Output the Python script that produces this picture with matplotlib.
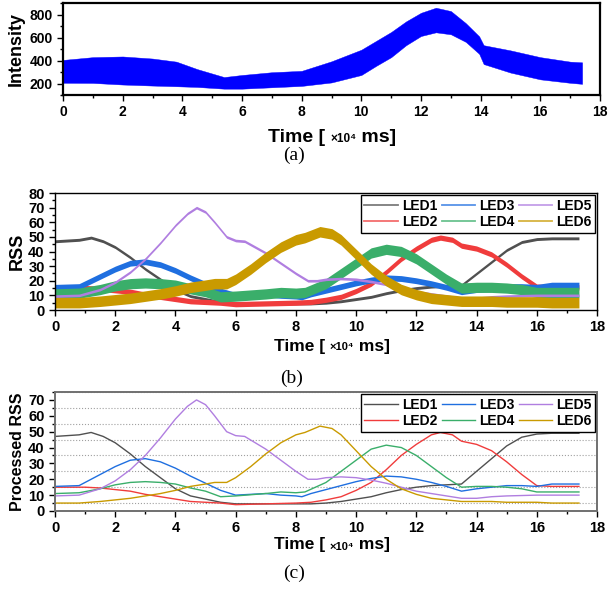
import matplotlib
matplotlib.use('Agg')
import matplotlib.pyplot as plt
from matplotlib.ticker import MultipleLocator
from matplotlib.lines import Line2D
from matplotlib.offsetbox import TextArea, HPacker, AnnotationBbox

plt.rcParams['font.family'] = ['Liberation Sans', 'DejaVu Sans']
plt.rcParams['font.weight'] = 'bold'

# ---- (a) raw photodiode intensity: upper / lower envelope of the band ----
t_int = [0, 1, 2, 3, 3.8, 4.5, 5.4, 6, 7, 8, 9, 10, 10.5, 11, 11.5, 12, 12.5,
         13, 13.5, 13.95, 14.1, 15, 16, 17, 17.4]
int_hi = [405, 429, 435, 417, 390, 325, 256, 274, 298, 310, 393, 494, 571, 648,
          740, 815, 859, 830, 725, 610, 533, 488, 429, 390, 384]
int_lo = [206, 205, 191, 182, 176, 170, 155, 155, 167, 179, 209, 274, 354, 429,
          533, 613, 645, 628, 562, 458, 369, 295, 236, 206, 197]

# ---- (b)/(c) RSS per LED ----
leds = ['LED1', 'LED2', 'LED3', 'LED4', 'LED5', 'LED6']
colors = ['#505050', '#f03c3c', '#1f6fe0', '#3aae6a', '#b07ee0', '#c99a00']

t_led1 = [0, 0.8, 1.2, 1.6, 2, 2.5, 3, 3.5, 4, 4.5, 5, 5.5, 6, 7, 8, 8.5, 9, 9.5,
          10, 10.5, 11, 11.5, 12, 12.5, 13, 13.5, 14, 14.5, 15, 15.5, 16, 16.5, 17, 17.4]
rss_led1 = [47, 48, 49.5, 47, 43, 36, 28, 21, 14, 9.5, 7.5, 5.5, 4.5, 4.5, 4.5, 4.5,
            5, 6, 7.5, 9, 11.5, 13.5, 15, 16, 16.5, 17, 25, 33, 41, 46.5, 48.5, 49, 49, 49]

t_led2 = [0, 1, 1.5, 2, 2.5, 3, 3.5, 4, 4.5, 5, 5.5, 6, 7, 8, 8.5, 9, 9.5, 10, 10.5,
          11, 11.5, 12, 12.5, 12.8, 13.2, 13.5, 14, 14.5, 15, 15.5, 16, 16.5, 17.4]
rss_led2 = [15, 15, 14.5, 13.5, 12.5, 10.5, 9, 7.5, 6, 5.5, 5, 4, 4.5, 5, 5.5, 7, 9,
            13, 18, 26, 35, 42, 48, 49.5, 48, 44, 42, 38, 31, 23, 16, 15.5, 15.5]

t_led3 = [0, 0.8, 1.2, 2, 2.5, 3, 3.5, 4, 4.5, 5, 5.5, 6, 7, 7.5, 8, 8.2, 8.5, 9,
          9.5, 10, 10.5, 11, 11.5, 12, 12.5, 13, 13.5, 14, 14.5, 15, 15.5, 16, 16.5, 17.4]
rss_led3 = [15.5, 16, 20, 28, 32, 33, 31, 27, 22, 17.5, 13, 10, 11, 10, 9.5, 9, 11,
            13.5, 16, 18.5, 20.5, 22, 21.5, 20, 18, 15.5, 12.5, 14, 15, 16, 16, 15.5, 17, 17]

t_led4 = [0, 0.8, 1.5, 2, 2.5, 3, 3.5, 4, 4.5, 5, 5.5, 6, 7, 7.5, 8, 8.3, 9, 9.5,
          10, 10.5, 11, 11.5, 12, 12.5, 13, 13.5, 14, 14.5, 15, 15.5, 16, 17.4]
rss_led4 = [11, 11.5, 14, 16.5, 18, 18.5, 18, 17, 14.5, 12.5, 9, 9.5, 11, 12, 11.5,
            12, 18, 25, 32, 39, 41.5, 40, 35, 28, 21, 15, 15.5, 15.5, 15, 14, 12, 12]

t_led5 = [0, 0.8, 1.5, 2, 2.5, 3, 3.5, 4, 4.4, 4.7, 5, 5.3, 5.7, 6, 6.3, 7, 7.5, 8,
          8.4, 8.7, 9, 9.5, 10, 10.5, 11, 11.5, 12, 12.5, 13, 13.5, 14, 14.5, 15, 16, 17.4]
rss_led5 = [9.5, 10, 14, 19, 26, 35, 46, 58, 66, 70, 67, 60, 50, 47.5, 47, 39, 32, 25,
            20, 20, 21, 21.5, 21, 19.5, 17.5, 15, 12.5, 11, 9.5, 8, 8, 9, 9.5, 10, 10]

t_led6 = [0, 0.8, 1.5, 2, 2.5, 3, 3.5, 4, 4.5, 5, 5.3, 5.7, 6, 6.5, 7, 7.5, 8, 8.3,
          8.8, 9.2, 9.5, 10, 10.5, 11, 11.5, 12, 12.5, 13, 13.5, 14.5, 15, 16, 16.5, 17.4]
rss_led6 = [5, 5, 6, 7, 8, 9.5, 11, 13, 15.5, 17, 18, 18, 21, 28, 36, 43, 48, 49.5,
            53.5, 52, 48, 38, 28, 20, 14, 10.5, 8, 7, 6, 6, 5.5, 5.5, 5, 5]

t_all = [t_led1, t_led2, t_led3, t_led4, t_led5, t_led6]
rss_all = [rss_led1, rss_led2, rss_led3, rss_led4, rss_led5, rss_led6]
# half width of the measurement noise band in (b)
noise_hw = [1.0, 1.8, 2.0, 3.5, 0.9, 3.6]

W, H = 610, 590
fig = plt.figure(figsize=(W / 100, H / 100), dpi=100)


def px_axes(left, right, top, bottom):
    return fig.add_axes([left / W, 1 - bottom / H, (right - left) / W, (bottom - top) / H])


def time_label(x, y, big, small):
    parts = [TextArea('Time [ ', textprops=dict(fontsize=big, fontweight='bold')),
             TextArea('×10⁴', textprops=dict(fontsize=small, fontweight='bold')),
             TextArea(' ms]', textprops=dict(fontsize=big, fontweight='bold'))]
    box = HPacker(children=parts, align='baseline', pad=0, sep=0)
    ab = AnnotationBbox(box, (x / W, 1 - y / H), xycoords='figure fraction',
                        frameon=False, box_alignment=(0.5, 0.5))
    fig.add_artist(ab)


def panel_tag(x, y, s):
    fig.text(x / W, 1 - y / H, s, ha='center', va='center', fontsize=14,
             family='Liberation Serif', fontweight='normal')


def style_axes(ax, ymajor, yminor, fsize, spine_color, spine_lw):
    ax.set_xlim(0, 18)
    ax.xaxis.set_major_locator(MultipleLocator(2))
    ax.xaxis.set_minor_locator(MultipleLocator(1))
    ax.yaxis.set_major_locator(MultipleLocator(ymajor))
    ax.yaxis.set_minor_locator(MultipleLocator(yminor))
    ax.tick_params(which='both', direction='out', labelsize=fsize, colors='black')
    ax.tick_params(which='major', length=4, width=1)
    ax.tick_params(which='minor', length=2, width=1)
    for lab in ax.get_xticklabels() + ax.get_yticklabels():
        lab.set_fontweight('bold')
    for sp in ax.spines.values():
        sp.set_color(spine_color)
        sp.set_linewidth(spine_lw)


def led_legend(ax, handles):
    leg = ax.legend(handles, leds, ncol=3, loc='upper right', fontsize=10,
                    frameon=True, fancybox=False, edgecolor='black', framealpha=1,
                    borderaxespad=0.15, handlelength=2.4, handletextpad=0.3,
                    columnspacing=0.3, borderpad=0.25, labelspacing=0.2)
    leg.get_frame().set_linewidth(1.0)
    for txt in leg.get_texts():
        txt.set_fontweight('bold')
    return leg


# (a)
ax_a = px_axes(63, 600, 3, 95)
ax_a.fill_between(t_int, int_lo, int_hi, color='#0000ff', lw=0.3, edgecolor='#0000ff')
ax_a.set_ylim(100, 900)
style_axes(ax_a, 200, 100, 10, 'black', 1.6)
ax_a.set_yticks([200, 400, 600, 800])
ax_a.set_ylabel('Intensity', fontsize=13, fontweight='bold', labelpad=3)
time_label(332, 137, 14, 8.5)
panel_tag(294, 155, '(a)')

# (b)
ax_b = px_axes(55, 597, 193, 310)
for t, r, hw, c in zip(t_all, rss_all, noise_hw, colors):
    lo = [v - hw for v in r]
    hi = [v + hw for v in r]
    ax_b.fill_between(t, lo, hi, color=c, lw=0)
ax_b.set_ylim(0, 80)
style_axes(ax_b, 10, 5, 10.5, 'black', 1.0)
ax_b.set_ylabel('RSS', fontsize=13, fontweight='bold', labelpad=2)
led_legend(ax_b, [Line2D([], [], color=c, lw=1.3, alpha=0.75) for c in colors])
time_label(332, 346, 12.5, 8)
panel_tag(292, 378, '(b)')

# (c)
ax_c = px_axes(55, 597, 392, 511)
lines_c = []
for t, r, c in zip(t_all, rss_all, colors):
    lines_c += ax_c.plot(t, r, color=c, lw=1.0)
ax_c.set_ylim(0, 75)
style_axes(ax_c, 10, 5, 10.5, '#707070', 1.4)
ax_c.yaxis.grid(True, which='minor', linestyle=':', color='#a0a0a0', lw=0.8)
ax_c.set_axisbelow(True)
ax_c.set_ylabel('Processed RSS', fontsize=11.5, fontweight='bold', labelpad=2)
led_legend(ax_c, lines_c)
time_label(332, 545, 12.5, 8)
panel_tag(294, 573, '(c)')

fig.savefig('out.png', dpi=100)
